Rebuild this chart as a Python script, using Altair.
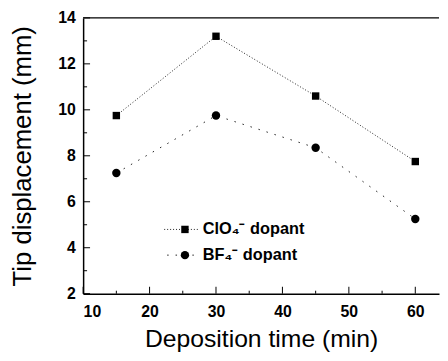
import altair as alt
import pandas as pd

time_min = [15, 30, 45, 60]
clo4_disp = [9.75, 13.2, 10.6, 7.75]
bf4_disp = [7.25, 9.75, 8.35, 5.25]
series_labels = ["ClO\u2084\u207b dopant", "BF\u2084\u207b dopant"]
x_major = [10, 20, 30, 40, 50, 60]
x_minor = [15, 25, 35, 45, 55]
y_major = [2, 4, 6, 8, 10, 12, 14]
y_minor = [3, 5, 7, 9, 11, 13]

W, H = 360, 279
FONT = "Liberation Sans"

df = pd.DataFrame({
    "time": time_min * 2,
    "disp": clo4_disp + bf4_disp,
    "series": [series_labels[0]] * len(time_min) + [series_labels[1]] * len(time_min),
})

xs = alt.Scale(domain=[10, 63.57], nice=False, zero=False)
ys = alt.Scale(domain=[2, 14], nice=False, zero=False)

x_axis = alt.Axis(title="Deposition time (min)", values=x_major, ticks=False, grid=False,
                  labelPadding=10, titlePadding=7, titleFontSize=25)
y_axis = alt.Axis(title="Tip displacement (mm)", values=y_major, ticks=False, grid=False,
                  labelPadding=8, titlePadding=22, titleFontSize=26)
x_enc = alt.X("time:Q", scale=xs, axis=x_axis)
y_enc = alt.Y("disp:Q", scale=ys, axis=y_axis)

lines = alt.Chart(df).mark_line(strokeWidth=1, color="#222").encode(
    x=x_enc, y=y_enc, detail="series:N",
    strokeDash=alt.StrokeDash("series:N", scale=alt.Scale(domain=series_labels, range=[[1, 2], [1.5, 7]]), legend=None),
)
points = alt.Chart(df).mark_point(filled=True, color="black", opacity=1).encode(
    x=x_enc, y=y_enc,
    shape=alt.Shape("series:N", scale=alt.Scale(domain=series_labels, range=["square", "circle"]), legend=None),
    size=alt.Size("series:O", scale=alt.Scale(domain=series_labels, range=[56, 72]), legend=None),
)

xt_major = alt.Chart(pd.DataFrame({"time": x_major})).mark_rule(color="black", strokeWidth=1).encode(
    x=x_enc, y=alt.value(H), y2=alt.value(H - 7))
xt_minor = alt.Chart(pd.DataFrame({"time": x_minor})).mark_rule(color="black", strokeWidth=1).encode(
    x=x_enc, y=alt.value(H), y2=alt.value(H - 3))
yt_major = alt.Chart(pd.DataFrame({"disp": y_major})).mark_rule(color="black", strokeWidth=1).encode(
    y=y_enc, x=alt.value(0), x2=alt.value(7))
yt_minor = alt.Chart(pd.DataFrame({"disp": y_minor})).mark_rule(color="black", strokeWidth=1).encode(
    y=y_enc, x=alt.value(0), x2=alt.value(4))

one = pd.DataFrame({"a": [0]})
top_border = alt.Chart(one).mark_rule(color="black", strokeWidth=1.5).encode(
    x=alt.value(0), x2=alt.value(W), y=alt.value(0))

leg1_line = alt.Chart(one).mark_rule(color="#222", strokeWidth=1, strokeDash=[1, 2]).encode(
    x=alt.value(82), x2=alt.value(117), y=alt.value(214))
leg1_pt = alt.Chart(one).mark_point(shape="square", filled=True, color="black", opacity=1, size=56).encode(
    x=alt.value(103), y=alt.value(214))
leg1_txt = alt.Chart(one).mark_text(align="left", baseline="middle", font=FONT, fontSize=16.5,
                                    fontWeight="bold", color="black").encode(
    x=alt.value(121), y=alt.value(214), text=alt.value(series_labels[0]))
leg2_line = alt.Chart(one).mark_rule(color="#222", strokeWidth=1, strokeDash=[1.5, 7]).encode(
    x=alt.value(85), x2=alt.value(118), y=alt.value(240))
leg2_pt = alt.Chart(one).mark_point(shape="circle", filled=True, color="black", opacity=1, size=72).encode(
    x=alt.value(103), y=alt.value(240))
leg2_txt = alt.Chart(one).mark_text(align="left", baseline="middle", font=FONT, fontSize=16.5,
                                    fontWeight="bold", color="black").encode(
    x=alt.value(121), y=alt.value(240), text=alt.value(series_labels[1]))

chart = alt.layer(
    lines, points, xt_major, xt_minor, yt_major, yt_minor, top_border,
    leg1_line, leg1_pt, leg1_txt, leg2_line, leg2_pt, leg2_txt,
).properties(
    width=W, height=H, padding={"left": 2, "top": 0, "right": 0, "bottom": 0}, background="white",
).configure_view(stroke=None).configure_axis(
    labelFont=FONT, labelFontSize=16, labelFontWeight="bold", labelColor="black",
    titleFont=FONT, titleFontWeight="normal", titleColor="black",
    domainColor="black", domainWidth=1.5,
)

chart.save("out.html", embed_options={"renderer": "svg", "actions": False})
